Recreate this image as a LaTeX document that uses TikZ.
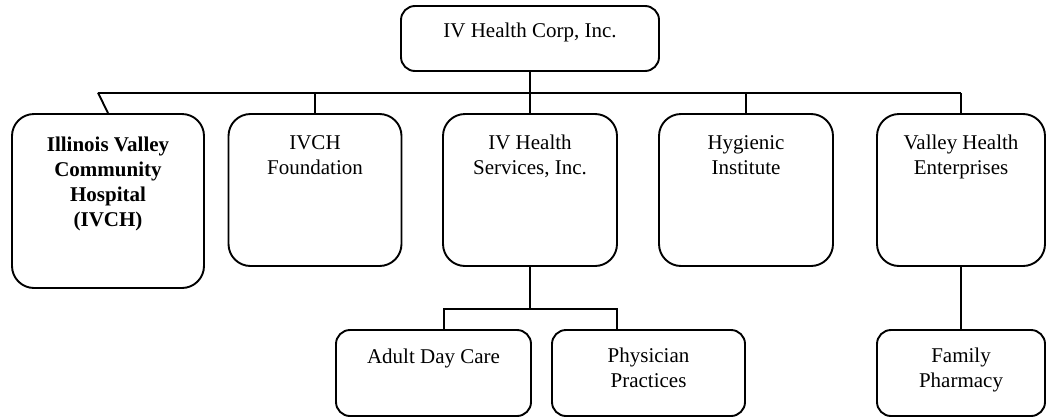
\documentclass[tikz,border=0pt]{standalone}
\usepackage{fontspec}
\setmainfont{Liberation Serif}
\begin{document}
\begin{tikzpicture}[x=1pt,y=-1pt,
  box/.style={draw, line width=1.9pt, rounded corners=22pt, inner sep=0pt},
  sbox/.style={draw, line width=1.9pt, rounded corners=14pt, inner sep=0pt},
  txt/.style={align=center, inner sep=0pt, font=\fontsize{21}{25}\selectfont},
  conn/.style={line width=1.9pt}]
\useasboundingbox (0,0) rectangle (1046,418);
% boxes
\node[sbox, minimum width=258pt, minimum height=65pt] (top) at (530,38.5) {};
\node[box, minimum width=192pt, minimum height=174pt] (ivch) at (108,201) {};
\node[box, minimum width=173pt, minimum height=152pt] (found) at (315,190) {};
\node[box, minimum width=174pt, minimum height=152pt] (serv) at (530,190) {};
\node[box, minimum width=174pt, minimum height=152pt] (hyg) at (746,190) {};
\node[box, minimum width=168pt, minimum height=152pt] (valley) at (961,190) {};
\node[sbox, minimum width=195pt, minimum height=86pt] (adult) at (433.5,373) {};
\node[sbox, minimum width=193pt, minimum height=86pt] (phys) at (648.5,373) {};
\node[sbox, minimum width=168pt, minimum height=86pt] (family) at (961,373) {};
% texts (base anchor = last line's baseline)
\node[txt, anchor=base] (ttop) at ([yshift=-32pt]top.north) {IV Health Corp, Inc.};
\node[txt, anchor=base, font=\fontsize{21}{25}\selectfont\bfseries] (tivch) at ([yshift=-113.5pt]ivch.north) {Illinois Valley\\Community\\Hospital\\(IVCH)};
\node[txt, anchor=base] (tfound) at ([yshift=-61pt]found.north) {IVCH\\Foundation};
\node[txt, anchor=base] (tserv) at ([yshift=-61pt]serv.north) {IV Health\\Services, Inc.};
\node[txt, anchor=base] (thyg) at ([yshift=-61pt]hyg.north) {Hygienic\\Institute};
\node[txt, anchor=base] (tvalley) at ([yshift=-61pt]valley.north) {Valley Health\\Enterprises};
\node[txt, anchor=base] (tadult) at ([yshift=-34pt]adult.north) {Adult Day Care};
\node[txt, anchor=base] (tphys) at ([yshift=-58pt]phys.north) {Physician\\Practices};
\node[txt, anchor=base] (tfamily) at ([yshift=-58pt]family.north) {Family\\Pharmacy};
% connectors
\coordinate (busL) at (98,92.7);
\coordinate (busR) at (961,92.7);
\draw[conn] (busL) -- (busR);
\draw[conn] (top.south) -- (serv.north);
\draw[conn] (busL) -- (ivch.north);
\draw[conn] (found.north) -- (found.north |- busL);
\draw[conn] (hyg.north) -- (hyg.north |- busL);
\draw[conn] (valley.north) -- (busR);
\coordinate (sbus) at (530,309);
\draw[conn] (serv.south) -- (sbus);
\draw[conn] ([xshift=10.5pt]adult.north) |- (sbus) -| ([xshift=-31.5pt]phys.north);
\draw[conn] (valley.south) -- (family.north);
\end{tikzpicture}
\end{document}
